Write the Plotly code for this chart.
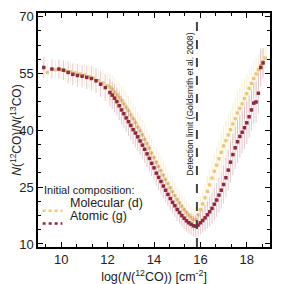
import plotly.graph_objects as go

# Atomic (g) series
atomic_x = [9.25, 9.6, 9.9, 10.1, 10.3, 10.5, 10.7, 10.9, 11.1, 11.3, 11.5, 11.7, 11.9,
            12.1, 12.2, 12.3, 12.4, 12.5, 12.6, 12.7, 12.8, 12.9, 13.0,
            13.1, 13.2, 13.3, 13.4, 13.5, 13.6, 13.7, 13.8, 13.9, 14.0,
            14.1, 14.2, 14.3, 14.4, 14.5, 14.6, 14.7, 14.8, 14.9, 15.0,
            15.1, 15.2, 15.3, 15.4, 15.5, 15.6, 15.7, 15.8, 15.9, 16.0,
            16.1, 16.2, 16.3, 16.4, 16.5, 16.6, 16.7, 16.8, 16.9, 17.0,
            17.1, 17.2, 17.3, 17.4, 17.5, 17.6, 17.7, 17.8, 17.9, 18.0,
            18.1, 18.2, 18.3, 18.4, 18.5, 18.6, 18.7]
atomic_y = [56.6, 56.2, 56.2, 55.9, 55.3, 54.8, 54.5, 54.3, 54.0, 53.7, 53.1, 52.2, 51.3,
            50.0, 49.3, 48.5, 47.6, 46.5, 45.4, 44.4, 43.3, 42.3, 41.3,
            40.2, 39.3, 38.3, 37.2, 36.1, 35.0, 33.8, 32.6, 31.3, 30.1,
            28.7, 27.6, 26.5, 25.3, 24.2, 23.1, 22.0, 21.0, 20.1, 19.1,
            18.3, 17.5, 16.8, 16.1, 15.6, 15.2, 14.8, 14.7, 15.0, 15.6,
            16.2, 16.9, 17.7, 18.5, 19.4, 20.5, 21.6, 22.9, 24.2, 25.7,
            27.5, 29.5, 31.6, 33.6, 35.4, 37.0, 38.4, 39.5, 40.7, 42.0,
            43.6, 45.4, 47.2, 47.5, 49.8, 56.6, 57.8]
atomic_err = [2.8, 2.6, 2.5, 2.6, 2.8, 2.9, 3.0, 3.0, 3.1, 3.2, 3.3, 3.4, 3.5,
              3.6, 3.6, 3.7, 3.7, 3.8, 3.8, 3.8, 3.8, 3.8, 3.8,
              3.8, 3.8, 3.7, 3.7, 3.6, 3.6, 3.5, 3.5, 3.4, 3.4,
              3.3, 3.3, 3.2, 3.2, 3.1, 3.1, 3.0, 3.0, 3.0, 3.0,
              2.9, 2.9, 2.9, 2.8, 2.8, 2.8, 2.8, 2.8, 2.9, 3.0,
              3.2, 3.4, 3.6, 3.8, 4.0, 4.2, 4.4, 4.6, 4.8, 5.0,
              5.2, 5.3, 5.4, 5.5, 5.6, 5.6, 5.6, 5.6, 5.6, 5.6,
              5.6, 5.5, 5.5, 5.4, 5.4, 5.0, 4.0]

# Molecular (d) series
molecular_x = [9.4, 9.75, 10.0, 10.2, 10.4, 10.6, 10.8, 11.0, 11.2, 11.4, 11.6, 11.8, 12.0,
               12.1, 12.2, 12.3, 12.4, 12.5, 12.6, 12.7, 12.8, 12.9, 13.0,
               13.1, 13.2, 13.3, 13.4, 13.5, 13.6, 13.7, 13.8, 13.9, 14.0,
               14.1, 14.2, 14.3, 14.4, 14.5, 14.6, 14.7, 14.8, 14.9, 15.0,
               15.1, 15.2, 15.3, 15.4, 15.5, 15.6, 15.7, 15.8, 15.9, 16.0,
               16.1, 16.2, 16.3, 16.4, 16.5, 16.6, 16.7, 16.8, 16.9, 17.0,
               17.1, 17.2, 17.3, 17.4, 17.5, 17.6, 17.7, 17.8, 17.9, 18.0,
               18.1, 18.2, 18.3, 18.4, 18.5, 18.6, 18.7, 18.8]
molecular_y = [55.3, 56.0, 56.0, 55.7, 55.5, 55.2, 54.9, 54.6, 54.2, 53.8, 53.2, 52.5, 51.8,
               51.4, 50.9, 50.1, 49.4, 48.7, 47.9, 47.0, 46.1, 45.2, 44.1,
               43.1, 42.1, 40.9, 39.9, 38.8, 37.6, 36.5, 35.3, 34.0, 32.8,
               31.6, 30.5, 29.4, 28.2, 27.1, 26.0, 24.9, 23.9, 22.8, 21.8,
               20.9, 20.0, 19.1, 18.3, 17.6, 17.0, 16.4, 16.5, 17.7, 19.1,
               20.6, 22.2, 23.9, 25.6, 27.4, 29.2, 30.8, 32.5, 34.2, 35.9,
               37.3, 38.8, 40.2, 41.7, 43.1, 44.6, 45.8, 47.0, 48.4, 49.7,
               51.1, 52.4, 53.7, 54.9, 56.0, 57.1, 58.1, 59.1]
molecular_err = [2.6, 2.5, 2.5, 2.6, 2.7, 2.8, 2.9, 3.0, 3.1, 3.2, 3.3, 3.4, 3.5,
                 3.6, 3.7, 3.7, 3.8, 3.8, 3.9, 3.9, 4.0, 4.0, 4.0,
                 4.0, 4.0, 4.0, 4.0, 4.0, 3.9, 3.9, 3.9, 3.8, 3.8,
                 3.8, 3.7, 3.7, 3.6, 3.6, 3.5, 3.5, 3.4, 3.4, 3.3,
                 3.3, 3.2, 3.2, 3.1, 3.1, 3.0, 3.0, 3.0, 3.2, 3.4,
                 3.6, 3.8, 4.0, 4.2, 4.4, 4.6, 4.8, 5.0, 5.1, 5.2,
                 5.3, 5.4, 5.4, 5.5, 5.5, 5.5, 5.5, 5.4, 5.3, 5.2,
                 5.0, 4.8, 4.6, 4.4, 4.2, 3.8, 3.4, 3.0]

detection_limit = 15.85
x_ticks = [10, 12, 14, 16, 18]
y_ticks = [10, 25, 40, 55, 70]
legend_title = "Initial composition:"
legend_names = ["Molecular (d)", "Atomic (g)"]

DARK = "#8e2a3e"
GOLD = "#e7c77c"
FONT = "Liberation Sans"
TXT = "#222222"

fig = go.Figure()

fig.add_trace(go.Scatter(
    x=molecular_x, y=molecular_y, mode="markers", name=legend_names[0],
    marker=dict(symbol="square", size=3.3, color=GOLD),
    error_y=dict(type="data", array=molecular_err, color="rgba(236,205,140,0.35)",
                 thickness=1, width=0),
    showlegend=False))
fig.add_trace(go.Scatter(
    x=atomic_x, y=atomic_y, mode="markers", name=legend_names[1],
    marker=dict(symbol="square", size=3.5, color=DARK),
    error_y=dict(type="data", array=atomic_err, color="rgba(170,70,95,0.3)",
                 thickness=1, width=0),
    showlegend=False))

fig.add_vline(x=detection_limit, line=dict(color="#444444", width=2, dash="dash"))
fig.add_annotation(x=detection_limit, xshift=-7, y=47, yref="y", xref="x",
                   text="Detection limit (Goldsmith et al. 2008)", textangle=-90,
                   showarrow=False, font=dict(family=FONT, size=8.6, color=TXT))

# manual legend (inside plot, lower-left)
fig.add_annotation(x=0.02, y=0.212, xref="paper", yref="paper", xanchor="left",
                   text=legend_title, showarrow=False, borderpad=0,
                   font=dict(family=FONT, size=11, color=TXT))
for name, col, yy in [(legend_names[0], GOLD, 0.155), (legend_names[1], DARK, 0.1)]:
    fig.add_shape(type="line", xref="paper", yref="paper", x0=0.02, x1=0.105, y0=yy, y1=yy,
                  line=dict(color=col, width=2.5, dash="dot"))
    fig.add_annotation(x=0.135, y=yy, xref="paper", yref="paper", xanchor="left",
                       text=name, showarrow=False, borderpad=0,
                       font=dict(family=FONT, size=12.5, color=TXT))

axis_common = dict(showline=True, linecolor="black", linewidth=1.5, mirror="allticks",
                   ticks="inside", ticklen=5, tickwidth=1.2, tickcolor="black",
                   showgrid=False, zeroline=False, ticklabeloverflow="allow",
                   tickfont=dict(family=FONT, size=13, color=TXT))

fig.update_xaxes(range=[9, 19], tickvals=x_ticks,
                 minor=dict(ticks="inside", ticklen=3, dtick=2/3, tick0=10, tickcolor="black"),
                 title=dict(text="log(<i>N</i>(<sup>12</sup>CO)) [cm<sup>-2</sup>]",
                            font=dict(family=FONT, size=12.5, color=TXT), standoff=7),
                 **axis_common)
fig.update_yaxes(range=[9.2, 71], tickvals=y_ticks,
                 minor=dict(ticks="inside", ticklen=3, dtick=3.75, tick0=10, tickcolor="black"),
                 title=dict(text="<i>N</i>(<sup>12</sup>CO)/<i>N</i>(<sup>13</sup>CO)",
                            font=dict(family=FONT, size=12, color=TXT), standoff=2),
                 **axis_common)

fig.update_layout(
    width=276, height=276,
    margin=dict(l=28, r=14, t=1, b=37),
    plot_bgcolor="white", paper_bgcolor="white",
    showlegend=False,
)

fig.write_html("out.html")
